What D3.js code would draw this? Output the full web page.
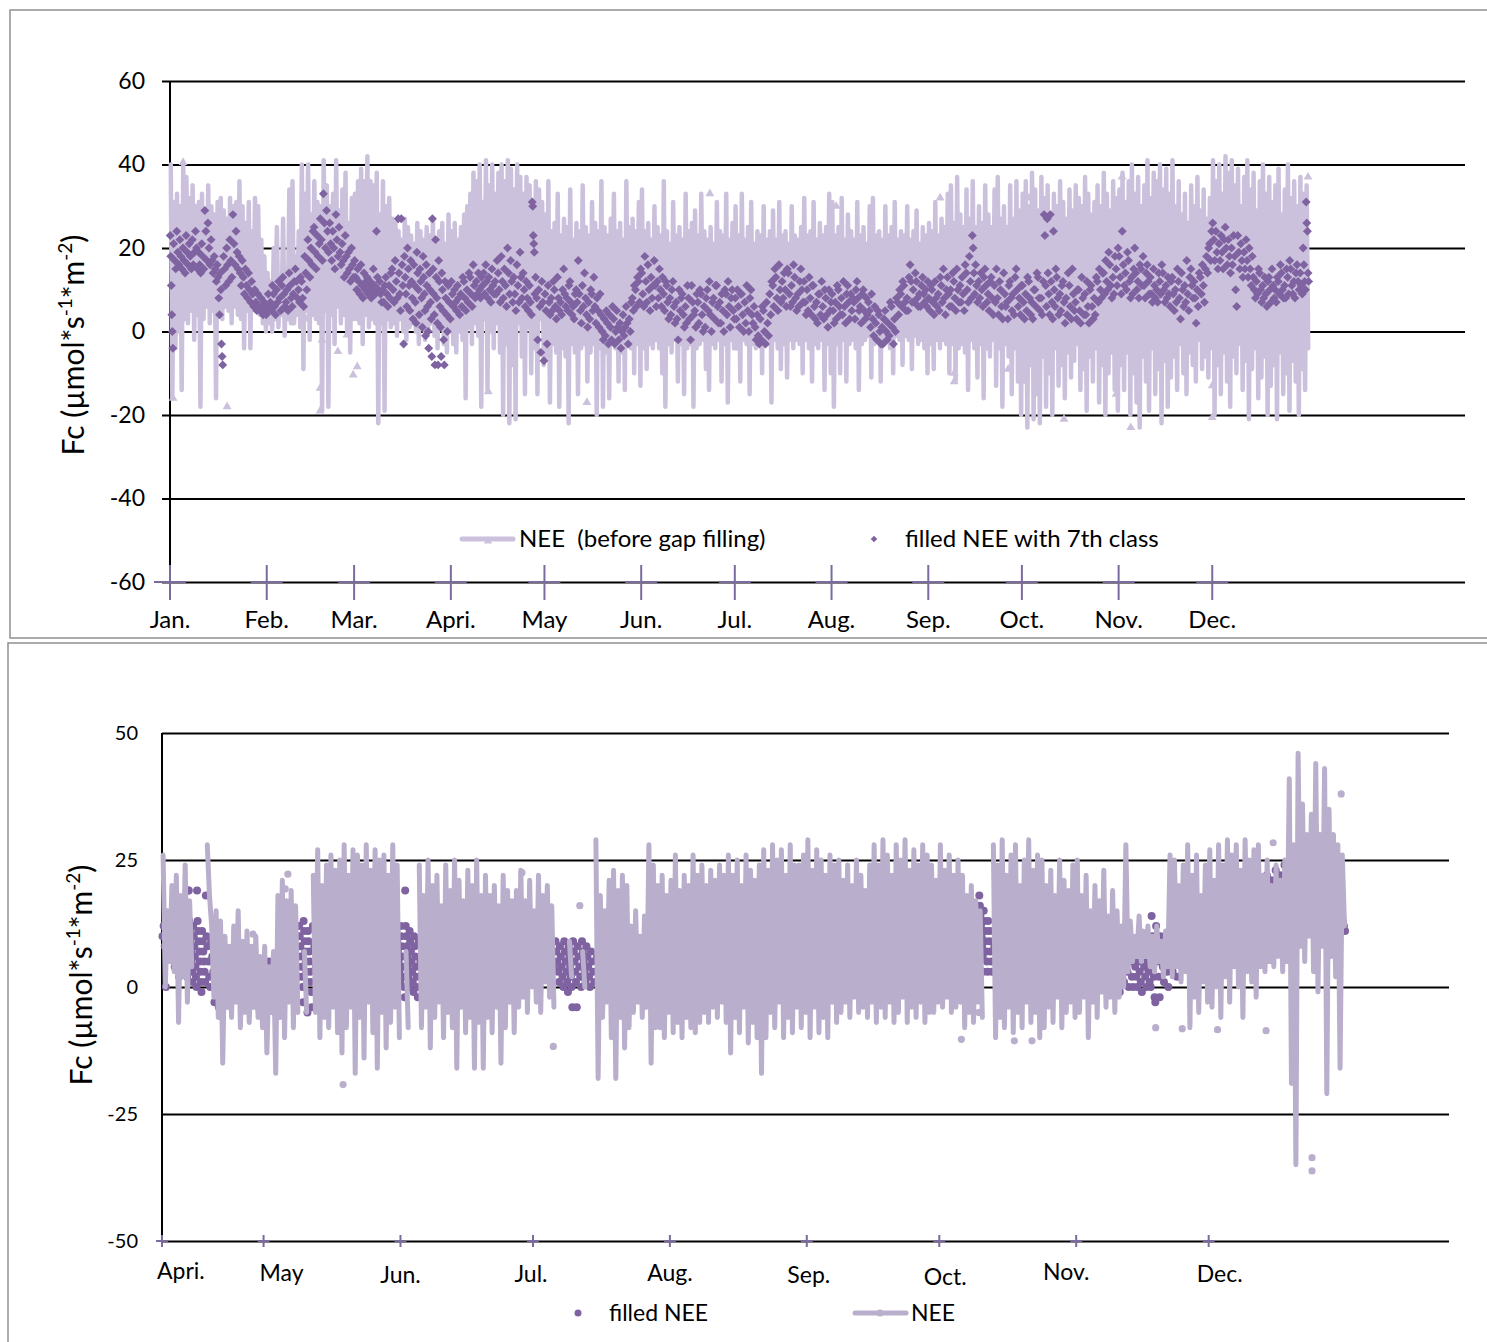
<!DOCTYPE html>
<html>
<head>
<meta charset="utf-8">
<script src="https://cdn.jsdelivr.net/npm/d3@7"></script>
<style>
  body { margin: 0; background: #fff; }
  svg text { font-family: Lato, "Open Sans", sans-serif; fill: #000; }
</style>
</head>
<body>
<svg id="chart" width="1487" height="1342"></svg>
<script>
// ---------- data ----------
const yTicksTop = [-60, -40, -20, 0, 20, 40, 60];
const yTicksBottom = [-50, -25, 0, 25, 50];
const monthLabelsTop = ['Jan.', 'Feb.', 'Mar.', 'Apri.', 'May', 'Jun.', 'Jul.', 'Aug.', 'Sep.', 'Oct.', 'Nov.', 'Dec.'];
const monthLabelsBottom = ['Apri.', 'May', 'Jun.', 'Jul.', 'Aug.', 'Sep.', 'Oct.', 'Nov.', 'Dec.'];

// top chart: NEE before gap filling, daily high / low (Jan 1 .. Dec 31)
const neeTopHi = [
  40,31,33,30,40,37,32,35,30,31,33,29,35,30,28,31,32,29,27,32,30,31,36,30,26,31,24,32,30,22,18, // Jan
  14,12,20,25,13,27,15,34,36,18,24,40,33,40,28,36,31,30,41,35,30,33,41,29,34,38,26,32, // Feb
  33,36,39,36,42,36,35,38,28,36,30,32,27,26,24,22,27,25,23,21,26,24,22,25,23,27,22,24,26,21,28, // Mar
  24,26,22,25,28,30,33,38,36,40,31,41,35,40,33,38,40,36,41,39,34,40,37,33,37,35,30,36,34,31, // Apr
  28,36,24,26,33,23,27,25,34,22,26,24,35,25,23,31,26,24,36,25,23,27,33,24,26,22,36,25,27,24,31, // May
  34,24,26,22,30,25,23,36,24,21,31,23,25,22,33,24,26,29,23,33,24,22,25,21,31,24,23,33,22,26, // Jun
  30,23,33,22,25,31,21,24,23,30,22,24,29,22,31,23,24,21,30,23,22,25,32,23,24,31,22,26,23,25,33, // Jul
  31,23,25,32,22,28,24,22,31,23,25,21,30,32,23,24,22,30,23,25,31,22,24,23,30,22,24,29,21,25,23, // Aug
  26,24,31,23,27,25,33,35,26,37,28,25,34,27,36,25,30,26,35,28,25,34,37,27,30,25,35,27,36,29, // Sep
  33,36,30,38,34,29,37,32,35,28,33,30,36,31,27,34,29,35,32,30,37,33,28,31,35,30,38,33,29,36,32, // Oct
  34,38,31,36,40,33,37,30,35,41,32,38,36,40,34,39,33,41,30,36,28,33,26,35,30,37,29,34,27,32, // Nov
  41,36,40,33,42,38,41,35,39,30,37,41,34,38,29,36,40,33,37,31,35,39,28,34,40,32,36,30,37,33,35  // Dec
];
const neeTopLo = [
  -16,-4,0,-14,3,2,5,-2,4,-18,3,6,2,5,-16,4,3,6,5,2,6,4,3,-4,5,-4,6,8,4,2,0,
  2,0,3,1,4,-1,3,2,2,4,1,-9,5,-2,4,3,2,-19,5,-18,4,-3,6,2,4,0,-5,3,
  3,2,-3,4,1,3,2,-22,2,-19,3,1,2,-1,3,0,-2,1,2,0,-3,1,-2,0,2,-1,-4,1,-3,-5,0,
  -3,-5,0,-2,-16,1,-3,2,-1,-18,3,-14,0,-4,2,-5,-20,-3,-22,-8,-21,2,-6,-15,1,-10,-4,-15,3,-8,
  -6,-17,-3,-5,-18,-4,-6,-22,-3,-5,-15,-4,-3,-12,-5,-3,-20,-4,-18,-5,-16,-3,-4,-12,-5,-14,-3,-4,-10,-3,-13,
  -4,-9,-3,-4,-2,-4,-10,-18,-3,-5,-2,-12,-3,-15,-4,-3,-18,-4,-3,-2,-9,-14,-3,-4,-2,-12,-3,-17,-2,-4,
  -4,-12,-2,-3,-15,-3,-4,-2,-10,-2,-3,-17,-2,-4,-9,-3,-11,-2,-4,-2,-3,-10,-2,-4,-12,-3,-4,-2,-14,-3,-10,
  -18,-3,-10,-2,-12,-3,-2,-4,-14,-3,-2,-1,-11,-3,-2,-12,-3,-2,-4,-10,-1,-2,-8,-1,-2,-9,-1,-3,-2,-4,-10,
  -3,-9,-2,-4,-2,-3,-10,-3,-12,-4,-3,-5,-14,-2,-4,-11,-3,-16,-4,-6,-2,-13,-4,-18,-3,-6,-15,-4,-12,-20,
  -12,-23,-8,-21,-15,-22,-6,-18,-10,-20,-4,-13,-8,-16,-5,-11,-7,-3,-14,-9,-19,-6,-12,-4,-17,-8,-20,-10,-5,-14,-19,
  -8,-14,-5,-20,-10,-17,-23,-6,-12,-19,-4,-15,-9,-22,-7,-18,-11,-6,-14,-3,-10,-15,-5,-8,-12,-2,-9,-6,-11,-4,
  -20,-8,-15,-5,-12,-18,-6,-10,-3,-14,-7,-21,-9,-4,-16,-11,-6,-20,-13,-8,-21,-5,-15,-10,-19,-7,-12,-20,-9,-14,-4
];
// single NEE points shown as markers [day of year, value]
const neeTopMarks = [
  [4.2,40.5],[1,-16],[18.3,-18],[43.9,3],[48.1,-13.6],[48.1,-19],[48.7,-2],[60,-8.4],[58.7,-10.4],[53.8,-4.8],
  [56.7,-0.8],[102,-14.4],[173,33],[155.8,23],[133.6,-17],[213.5,30],[246.8,32],[275.3,32],[251.3,-10],[251.3,-12],
  [268.6,-9],[305.1,37],[303.2,-15],[307.9,-23],[286.5,-21],[364.7,37],[334,-20.6],[334,-13]
];
// filled NEE with 7th class, values per day
const filledTop = [
  // Jan
  [23,18,11,4,0,-4],[21,17,15],[24,19,16],[22,18,15],[20,17,14],[23,19,16],[21,18,15],[22,16,19],[24,20,15],[19,16,14],
  [21,18,15],[29,24,17],[26,20,16],[22,17,14],[18,15,12],[16,13,8,4],[14,10,-3,-6,-8],[18,15,11],[20,16,12],[22,17,13],
  [28,21,16],[24,19,15],[18,14,11],[17,13,9],[15,11,8],[14,10,7],[12,9,6],[10,7,5],[9,6,5],[8,6,4],[7,5,4],
  // Feb
  [6,9,5],[7,5,11],[9,6,4],[10,7,12],[8,5,11],[13,9,6],[7,10,5],[14,11,8],[6,9,12],[15,12,8],
  [10,7,13],[12,8,6],[18,14,10],[22,17,13],[20,16,24],[25,19,15],[23,18,21],[27,22,17],[33,26,20],[29,24,19],
  [26,21,17],[24,20,15],[28,22,18],[25,19,16],[21,17,13],[23,18,14],[19,15,12],[20,16,13],
  // Mar
  [17,13,10],[15,12,9],[16,11,8],[14,10,12],[13,9,11],[12,8,10],[15,11,9],[24,13,10],[12,9,7],[10,7,11],
  [13,9,6],[11,8,14],[15,10,7],[17,12,8],[27,14,9,5],[27,16,11,-3],[18,13,9,6],[20,15,11,5],[17,12,8,3],[16,11,7,2],
  [19,14,10,4],[15,12,8,1],[18,13,9,5,-1],[16,11,6,0,-4],[14,10,7,3,-6],[27,15,9,4,-8],[22,13,8,2,-8],[17,12,6,1,-6],[14,10,5,-2,-8],[12,8,4,0],
  [11,7,3],
  // Apr
  [12,9,6],[10,7,5],[11,8,4],[9,6,13],[12,8,5],[10,7,14],[13,9,6],[16,11,8],[12,9,14],[10,8,13],
  [11,14,9],[16,12,8],[13,10,7],[15,11,9],[12,9,17],[14,10,7],[18,12,8],[15,11,6],[20,14,9],[17,12,7],
  [13,9,5],[16,11,7],[19,13,8],[14,10,6],[12,8,5],[11,7,4],[31,30,23,21,19,9],[13,8,-2],[10,6,-5],[12,7,-7],
  // May
  [9,5,-3],[11,7,4],[8,5,12],[10,6,3],[13,8,5],[7,4,10],[15,9,6],[8,5,11],[12,7,4],[6,3,9],
  [10,7,17],[9,5,2],[11,6,14],[8,4,1],[7,3,10],[9,5,13],[6,2,8],[5,1,9],[4,0,-2],[3,-1,5],
  [2,-3,4],[1,-2,6],[3,-3,0],[5,1,-2],[2,-4,0],[4,-1,1],[6,2,-3],[3,0,7],[8,5,11],[10,6,13],
  [12,7,15],
  // Jun
  [14,9,6],[18,12,7],[16,10,5],[13,8,11],[17,11,6],[12,8,15],[10,6,13],[9,5,12],[11,7,3],[8,4,10],
  [12,6,2],[7,3,-2],[10,5,8],[9,4,1],[6,2,11],[8,3,-2],[11,7,4],[5,1,9],[7,2,10],[9,4,0],
  [6,1,8],[10,5,12],[4,0,7],[8,3,11],[11,6,2],[7,2,9],[5,0,10],[9,4,12],[6,1,8],[10,5,3],
  // Jul
  [8,3,10],[6,1,9],[9,4,0],[7,2,11],[5,0,8],[10,4,2],[6,1,-2],[4,-1,-3],[3,-2,6],[5,0,-3],
  [7,2,-1],[9,4,12],[11,6,15],[13,8,5],[16,10,7],[12,8,14],[10,6,15],[14,9,6],[11,7,16],[13,8,5],
  [9,6,12],[15,10,7],[12,7,4],[10,5,13],[8,4,11],[11,6,3],[7,2,9],[9,4,12],[6,3,10],[8,4,1],
  [10,5,7],
  // Aug
  [9,5,2],[7,3,11],[10,6,4],[8,4,12],[6,2,9],[11,7,3],[9,5,8],[7,3,10],[12,8,5],[6,2,9],
  [10,5,3],[8,4,7],[5,1,9],[3,-1,6],[2,-2,5],[4,0,-3],[1,-3,3],[5,0,-2],[2,-1,7],[6,1,-3],
  [3,0,8],[7,4,10],[9,6,12],[11,7,5],[8,5,13],[16,12,7],[10,7,14],[12,8,6],[9,6,11],[13,9,7],
  [10,6,12],
  // Sep
  [8,5,11],[10,7,4],[12,8,6],[9,5,13],[11,7,15],[8,4,10],[13,9,6],[10,6,14],[12,8,5],[15,10,7],
  [11,7,13],[9,5,16],[14,10,7],[18,12,8],[23,20,14,9],[16,11,7],[12,8,14],[10,6,13],[15,11,7],[9,5,12],
  [13,8,4],[11,7,15],[8,4,12],[10,6,3],[14,9,6],[7,3,11],[12,8,5],[9,4,13],[15,10,6],[8,4,11],
  // Oct
  [11,7,3],[9,5,13],[12,8,4],[7,3,10],[10,6,14],[13,8,5],[8,4,12],[28,23,11,6],[27,14,9,4],[28,12,7,3],
  [24,10,6,15],[13,8,4],[9,5,11],[12,7,2],[8,4,14],[11,6,3],[15,9,5],[7,3,10],[10,5,2],[13,8,4],
  [9,4,12],[6,2,10],[11,6,3],[8,4,13],[12,7,15],[10,8,14],[14,9,17],[12,10,19],[16,11,8],[13,9,18],
  [15,11,20],
  // Nov
  [18,13,9],[24,16,11],[14,10,19],[17,12,8],[13,9,15],[20,14,10],[12,8,16],[15,11,18],[11,8,14],[16,12,9],
  [13,9,7],[15,11,8],[10,7,14],[12,9,16],[14,10,7],[11,8,13],[9,6,12],[13,9,5],[10,7,15],[12,8,3],
  [14,10,6],[11,7,17],[9,5,13],[15,11,8],[12,8,2],[10,6,14],[13,9,16],[11,7,15],[18,14,20],[21,17,24],
  // Dec
  [26,22,17],[24,19,15],[21,17,23],[19,15,22],[25,20,16],[22,18,14],[20,16,23],[18,10,6],[23,19,15],[21,17,13],
  [19,15,22],[17,13,20],[15,11,18],[13,10,8],[12,9,15],[14,10,7],[11,8,13],[9,6,12],[13,10,7],[15,11,8],
  [10,7,13],[12,9,16],[14,10,8],[11,8,15],[13,9,17],[15,11,9],[12,8,14],[16,12,10],[14,11,9],[20,16,12,10],
  [31,26,24,14,12]
];

// bottom chart: NEE daily high / low from Apr 8 (null = no data)
const neeBottomHi = [
  26,15,20,22,18,24,17, null,null,null, 28, 12,15,13, 10,8,12,15,9,11,8,10, 6,8,4,7, 18,21,17,19,16,
  null,7,null, 22,27,20,24,26,23, 25,28,22,27,26,24,28,23,27,25,26,22,28,24, null,7,null,null,
  24,18,25,20,22,16,24,19,25,21,17,23,20,25,18, 22,18,20,16,22,19,17, 19,23,17,21,15,22,18,20,16,
  null,null,null,9,null,null,7,null,null, 29, 18,15, 21,23,19,22,20, 12,15,10,14, 28,24,
  20,22,18,21,26,19,22,20,26, 22,24,20,23,21,24,22, 26,22,25,20,26,23,21,24, 27,23,28,25,27,22,28,24,
  24,26,29,23,27,25,22,26,24, 25,21,24,20,25,22,19,24, 28,24,29,26,22,28,25,29,23,27,24,28,26,
  24,21,28,23,26,22,25, 22,18,20,17,15, null,null, 28,24,29,22,26,28,20,25,29,23,26,
  25,20,23,18,25,21,19,24, 25,18,22,15,20,17,23,14,19, 15,12,28,13,10,14,11,12, 10,12,9,11,
  26,25,20,24, 28,22,26,18,24,27,21, 28,24,29,26,28,23,29,25,27,28, 22,25,20,24,21,25,
  41, 28, 46, 36,30,34, 44,30, 43,35,30, 28,26
];
const neeBottomLo = [
  0,5,3,-7,2,-3,4, null,null,null, 18, -2,-6,-15, -4,-6,-3,-8,-5,-7,-4,-6, -8,-13,-5,-17, -6,-10,-3,-8,-5,
  null,-5,null, -5,-10,-6,-8,-4,-9, -13,-8,-4,-17,-6,-14,-3,-9,-16,-5,-12,-7,-4,-10, null,-8,null,null,
  -8,-4,-12,-6,-3,-10,-5,-8,-16,-4,-9,-6,-16,-7,-16, -6,-9,-4,-15,-8,-3,-9, -4,-2,-5,0,-3,-5,1,-2,-4,
  null,null,null,2,null,null,0,null,null, -18, -6,-3, -10,-18,-6,-12,-8, -5,-3,-6,-4, -15,-8,
  -8,-10,-5,-9,-7,-10,-6,-8,-9, -7,-5,-7,-4,-6,-3,-7, -13,-6,-9,-4,-11,-7,-10,-17, -10,-5,-8,-3,-10,-6,-9,-4,
  -8,-5,-10,-4,-9,-6,-10,-3,-7, -5,-3,-6,-2,-5,-4,-6,-3, -7,-4,-6,-3,-7,-5,-2,-7,-4,-6,-3,-7,-5,
  -5,-3,-4,-2,-5,-4,-3, -8,-5,-7,-3,-6, null,null, -10,-6,-8,-4,-9,-5,-8,-3,-7,-5,-10,
  -8,-4,-7,-2,-8,-5,-3,-6, -5,-2,-10,-3,-6,-1,-4,-2,-5, -2,0,3,5,6,5,6,4, 3,5,2,4,
  2,4,1,3, -8,-2,-5,1,-3,-4,0, -6,2,-3,4,0,-6,3,1,-2,4, 3,5,4,6,3,5,
  -19, -35, 8, 5,10,3, -1,8, -21,6,2, -16,12
];
// single NEE points [days after Apr 8, value]
const neeBottomMarks = [
  [20.6,10.4],[27.9,19.3],[28.5,22.2],[41,-19.2],[81.5,22.5],[88.6,-11.7],[94.6,16],[174,20.9],[181,-10.3],[185,-5],
  [193,-10.6],[197,-10.6],[207,23.5],[225,-8],[231,-8.2],[239,-8.4],[250,-8.6],[251.6,28.4],[260.4,-33.6],[260.4,-36.2],[267,38]
];
// filled NEE, values per day from Apr 8
const filledBottom = [
  [10,12,8,0],[11,9,13,6],[12,7,10,4],[14,9,5,2],[12,8,3,16],[13,10,6,2,19],[19,13,11,9,7,5,3,1],[12,10,8,6,4,2,0,19],[13,11,9,7,5,3,1,-1],[11,9,7,5,3,1,18],
  [10,8,5,2,0],[9,6,3,-3],[8,5,2,-4],[7,4,1],[6,3,0],[7,4,1],[6,2,-1],[5,2,-2],[6,3,0],[5,1,-2],
  [4,1,-3],[3,0,-4],[4,1,-3],[3,0,-2],[5,2,-1],[4,1,-3],[6,3,0],[8,4,1],[9,5,2],[7,4,0],
  [10,6,2],[12,10,8,6,4,2,0,-3],[13,11,9,7,5,3,1,-5],[11,9,7,5,3,1,-1,-4],[12,8,4],[10,6,2],
  [9,5,1],[11,7,3],[8,4,0],[10,6,2],[9,5,1],[11,7,3],[10,6,2],[12,8,4],[9,5,1],[11,7,3],[10,6,2],[8,4,0],[9,5,1],[11,7,3],[10,6,2],[12,8,4],[9,5,1],
  [11,9,7,5,3,1],[12,10,8,6,4,2,0,-2],[19,12,10,8,6,4,2,0],[11,9,7,5,3,1,-1],[10,8,6,4,2,0,-2],[9,5,2],
  [8,4],[10,5],[9,3],[11,6],[7,2],[10,4],[12,7],[9,3],[8,2],[11,6],[10,5],[9,4],[12,6],[8,3],[10,5],
  [11,6],[9,4],[7,2],[10,5],[8,3],[11,6],[9,4],[12,7],[10,5],[8,3],[9,4],[11,6],[10,5],[8,2],[9,4],
  [9,7,5,3,1],[8,6,4,2,0],[9,7,5,3,1,-1],[8,6,4,2,0,-4],[9,7,5,3,1,-4],[8,6,4,2,0],[9,7,5,3,1],[8,6,4,2,0],[7,5,3,1],
  [6],[8],[5],[7],[9],[4],[6],[8],[7],[5],[9],[6],[8],[10],[7],[5],[9],[6],[8],[7],
  [10],[6],[8],[5],[9],[7],[11],[6],[8],[9],[7],[10],[5],[8],[6],[9],[7],[11],[8],[6],
  [9],[7],[10],[5],[8],[6],[9],[11],[7],[8],[6],[10],[8],[5],[9],[7],[6],[10],[8],[9],
  [7],[5],[9],[8],[6],[10],[7],[9],[8],[6],[10],[7],[9],[5],[8],[6],[11],[7],[9],[8],
  [6],[9],[7],[10],[8],
  [14,12,10,8,6,4],[16,14,12,10,8,6,4],[18,16,14,12,10,8,6,3],[15,13,11,9,7,5,3],[13,11,9,7,5,3],[11,8,5],
  [9,5],[11,6],[8,4],[10,5],[12,7],[9,4],[11,6],[8,3],[10,5],
  [10,7,4,2],[12,9,6,3],[11,8,5,2],[10,7,4],
  [9,5,2],[8,4,1],[10,6,3],[9,5,2],[11,7,3],[8,4,1],[9,5,2],[10,6,3],
  [8,5,2,0],[7,4,1],[9,6,3,0],[8,5,2],[10,7,4,1],[9,6,3,0],[8,5,2,-1],[7,4,1],[9,6,3,0],[8,5,2,0],[6,4,2,0],[5,3,1,-1],[6,4,2,0],[5,3,1,0],
  [14,10,6,2,-2,-3],[12,8,5,2,-2],[10,7,4,1],[9,6,3,0],
  [10,6,3],[9,5,2],[11,7,4],[12,8,5],[13,9,6],[12,8,4],[14,10,7],[13,9,6],[15,11,8],[14,10,7],[16,12,9],
  [18,14,11],[17,13,10],[19,15,12],[18,14,11],[20,16,13],[19,15,12],[18,14,11],[20,16,13],[21,17,14],[19,15,12],[20,16,13],[22,18,15],[21,17,14],[23,19,16],[22,18,15],[24,20,17],
  [24,21,18,15],[23,20,17,14],[24,21,18,15],[22,19,16,13],[21,18,15,12],[20,17,14,12],
  [16,14,12,11],[15,13,12,11],[16,14,12,10],[15,13,11,10],[16,14,12,11],[15,13,12,11],[14,13,12,11]
];

// ---------- styling ----------
const lightTop = '#cbc1dd';
const lightBottom = '#b9aecb';
const darkPurple = '#7f63a1';
const tickPurple = '#7b6a9d';
// hand placed month labels in the lower chart: [dx, dy] from the tick
const labelNudgeBottom = [[-5, 38], [18, 40], [0, 42], [-2, 41], [0, 40], [2, 42], [6, 44], [-10, 39], [11, 41]];

const svg = d3.select('#chart');

// helpers
function zigzag(start, hi, lo) {
  const pts = [];
  hi.forEach((h, i) => {
    const day = d3.utcDay.offset(start, i);
    if (h == null) { pts.push({ t: day, v: null }); return; }
    pts.push({ t: d3.utcHour.offset(day, 6), v: h });
    pts.push({ t: d3.utcHour.offset(day, 18), v: lo[i] });
  });
  return pts;
}
function dayDots(start, lists) {
  const out = [];
  lists.forEach((vals, i) => {
    const day = d3.utcDay.offset(start, i);
    vals.forEach((v, k) => out.push({ t: d3.utcMinute.offset(day, Math.round(1440 * (k + 0.5) / vals.length)), v }));
  });
  return out;
}
function markPoints(start, marks) {
  return marks.map(m => ({ t: d3.utcMinute.offset(start, Math.round(m[0] * 1440)), v: m[1] }));
}
function yTitle(g, x, y, size) {
  const t = g.append('text')
    .attr('transform', `translate(${x},${y}) rotate(-90)`)
    .attr('text-anchor', 'middle')
    .style('font-size', size + 'px');
  const small = Math.round(size * 0.62);
  t.append('tspan').text('Fc (µmol*s');
  t.append('tspan').attr('dy', -size * 0.4).style('font-size', small + 'px').text('-1');
  t.append('tspan').attr('dy', size * 0.4).text('*m');
  t.append('tspan').attr('dy', -size * 0.4).style('font-size', small + 'px').text('-2');
  t.append('tspan').attr('dy', size * 0.4).text(')');
}

// ================= top chart =================
const startTop = new Date(Date.UTC(2010, 0, 1));
const xTop = d3.scaleUtc()
  .domain([startTop, d3.utcDay.offset(startTop, 415)])
  .range([170, 1465]);
const yTop = d3.scaleLinear().domain([-60, 60]).range([582, 81]);
const gTop = svg.append('g');

gTop.append('rect')
  .attr('x', 10).attr('y', 10).attr('width', 1500).attr('height', 628)
  .attr('fill', 'none').attr('stroke', '#909090').attr('stroke-width', 1.5);

// gridlines + tick labels
const yAxisTop = d3.axisLeft(yTop).tickValues(yTicksTop).tickFormat(d => String(d))
  .tickSizeInner(-(1465 - 170)).tickSizeOuter(0).tickPadding(0);
const gyTop = gTop.append('g').attr('transform', 'translate(170,0)').call(yAxisTop);
gyTop.select('.domain').remove();
gyTop.selectAll('.tick line').attr('x1', -8).attr('stroke', '#000').attr('stroke-width', 2);
gyTop.selectAll('.tick text').attr('x', -25).style('font-size', '23px').style('font-family', 'Lato, sans-serif').attr('fill', '#000');

gTop.append('line')
  .attr('x1', 170).attr('x2', 170).attr('y1', yTop(60)).attr('y2', yTop(-60))
  .attr('stroke', '#000').attr('stroke-width', 2);

// NEE (before gap filling)
const lineTop = d3.line().defined(d => d.v != null).x(d => xTop(d.t)).y(d => yTop(d.v));
gTop.append('path')
  .datum(zigzag(startTop, neeTopHi, neeTopLo))
  .attr('d', lineTop)
  .attr('fill', 'none').attr('stroke', lightTop).attr('stroke-width', 4.5)
  .attr('stroke-linejoin', 'round').attr('stroke-linecap', 'round');

gTop.selectAll('.mark-top')
  .data(markPoints(startTop, neeTopMarks))
  .join('path')
  .attr('class', 'mark-top')
  .attr('d', d3.symbol(d3.symbolTriangle, 34))
  .attr('transform', d => `translate(${xTop(d.t)},${yTop(d.v)})`)
  .attr('fill', lightTop);

// filled NEE with 7th class
gTop.selectAll('.fill-top')
  .data(dayDots(startTop, filledTop))
  .join('path')
  .attr('class', 'fill-top')
  .attr('d', d3.symbol(d3.symbolSquare, 40))
  .attr('transform', d => `translate(${xTop(d.t)},${yTop(d.v)}) rotate(45)`)
  .attr('fill', darkPurple);

// month markers on the x axis
const monthsTop = d3.utcMonth.range(startTop, d3.utcYear.offset(startTop, 1));
const mt = gTop.append('g').selectAll('g').data(monthsTop).join('g')
  .attr('transform', d => `translate(${xTop(d)},${yTop(-60)})`);
mt.append('line').attr('x1', -16).attr('x2', 16).attr('stroke', tickPurple).attr('stroke-width', 2);
mt.append('line').attr('y1', -17).attr('y2', 18).attr('stroke', tickPurple).attr('stroke-width', 2);
mt.append('text')
  .attr('y', 46).attr('text-anchor', 'middle').style('font-size', '24px')
  .text((d, i) => monthLabelsTop[i]);

yTitle(gTop, 84, 345, 30);

// legend
const legTop = gTop.append('g').attr('transform', 'translate(0,539)');
legTop.append('line').attr('x1', 462).attr('x2', 513)
  .attr('stroke', lightTop).attr('stroke-width', 5).attr('stroke-linecap', 'round');
legTop.append('path').attr('d', d3.symbol(d3.symbolTriangle, 30)).attr('transform', 'translate(488,2)').attr('fill', lightTop);
legTop.append('text').attr('x', 519).attr('y', 8).style('font-size', '24px').style('white-space', 'pre')
  .text('NEE\u00a0\u00a0(before gap filling)');
legTop.append('path').attr('d', d3.symbol(d3.symbolSquare, 22)).attr('transform', 'translate(874,0) rotate(45)').attr('fill', darkPurple);
legTop.append('text').attr('x', 905).attr('y', 8).style('font-size', '24px').text('filled NEE with 7th class');

// ================= bottom chart =================
const startBottom = new Date(Date.UTC(2010, 3, 8));
const xBottom = d3.scaleUtc()
  .domain([startBottom, d3.utcHour.offset(startBottom, Math.round(291.4 * 24))])
  .range([162, 1449]);
const yBottom = d3.scaleLinear().domain([-50, 50]).range([1241, 733]);
const gBottom = svg.append('g');

gBottom.append('rect')
  .attr('x', 8).attr('y', 643).attr('width', 1500).attr('height', 720)
  .attr('fill', 'none').attr('stroke', '#909090').attr('stroke-width', 1.5);

const yAxisBottom = d3.axisLeft(yBottom).tickValues(yTicksBottom).tickFormat(d => String(d))
  .tickSizeInner(-(1449 - 162)).tickSizeOuter(0).tickPadding(0);
const gyBottom = gBottom.append('g').attr('transform', 'translate(162,0)').call(yAxisBottom);
gyBottom.select('.domain').remove();
gyBottom.selectAll('.tick line').attr('stroke', '#000').attr('stroke-width', 2);
gyBottom.selectAll('.tick text').attr('x', -24).style('font-size', '20px').style('font-family', 'Lato, sans-serif').attr('fill', '#000');

gBottom.append('line')
  .attr('x1', 162).attr('x2', 162).attr('y1', yBottom(50)).attr('y2', yBottom(-50))
  .attr('stroke', '#000').attr('stroke-width', 2);

// filled NEE (drawn below NEE)
gBottom.selectAll('.fill-bottom')
  .data(dayDots(startBottom, filledBottom))
  .join('circle')
  .attr('class', 'fill-bottom')
  .attr('cx', d => xBottom(d.t)).attr('cy', d => yBottom(d.v)).attr('r', 4)
  .attr('fill', darkPurple);

const lineBottom = d3.line().defined(d => d.v != null).x(d => xBottom(d.t)).y(d => yBottom(d.v));
gBottom.append('path')
  .datum(zigzag(startBottom, neeBottomHi, neeBottomLo))
  .attr('d', lineBottom)
  .attr('fill', 'none').attr('stroke', lightBottom).attr('stroke-width', 5)
  .attr('stroke-linejoin', 'round').attr('stroke-linecap', 'round');

gBottom.selectAll('.mark-bottom')
  .data(markPoints(startBottom, neeBottomMarks))
  .join('circle')
  .attr('class', 'mark-bottom')
  .attr('cx', d => xBottom(d.t)).attr('cy', d => yBottom(d.v)).attr('r', 3.6)
  .attr('fill', lightBottom);

// month markers
const monthsBottom = [startBottom].concat(d3.utcMonth.range(new Date(Date.UTC(2010, 4, 1)), new Date(Date.UTC(2010, 11, 2))));
const mb = gBottom.append('g').selectAll('g').data(monthsBottom).join('g')
  .attr('transform', d => `translate(${xBottom(d)},${yBottom(-50)})`);
mb.append('line').attr('x1', -6).attr('x2', 6).attr('stroke', tickPurple).attr('stroke-width', 2);
mb.append('line').attr('y1', -6).attr('y2', 6).attr('stroke', tickPurple).attr('stroke-width', 2);
mb.append('text')
  .attr('x', (d, i) => labelNudgeBottom[i][0])
  .attr('y', (d, i) => labelNudgeBottom[i][1])
  .attr('text-anchor', (d, i) => i === 0 ? 'start' : 'middle')
  .style('font-size', '23px')
  .text((d, i) => monthLabelsBottom[i]);

yTitle(gBottom, 92, 975, 30);

// legend
const legBottom = gBottom.append('g').attr('transform', 'translate(0,1313)');
legBottom.append('circle').attr('cx', 578).attr('cy', 0).attr('r', 3.5).attr('fill', darkPurple);
legBottom.append('text').attr('x', 609).attr('y', 8).style('font-size', '23px').text('filled NEE');
legBottom.append('line').attr('x1', 855).attr('x2', 906)
  .attr('stroke', lightBottom).attr('stroke-width', 5).attr('stroke-linecap', 'round');
legBottom.append('circle').attr('cx', 880).attr('cy', 0).attr('r', 3.5).attr('fill', lightBottom);
legBottom.append('text').attr('x', 911).attr('y', 8).style('font-size', '23px').text('NEE');
</script>
</body>
</html>
